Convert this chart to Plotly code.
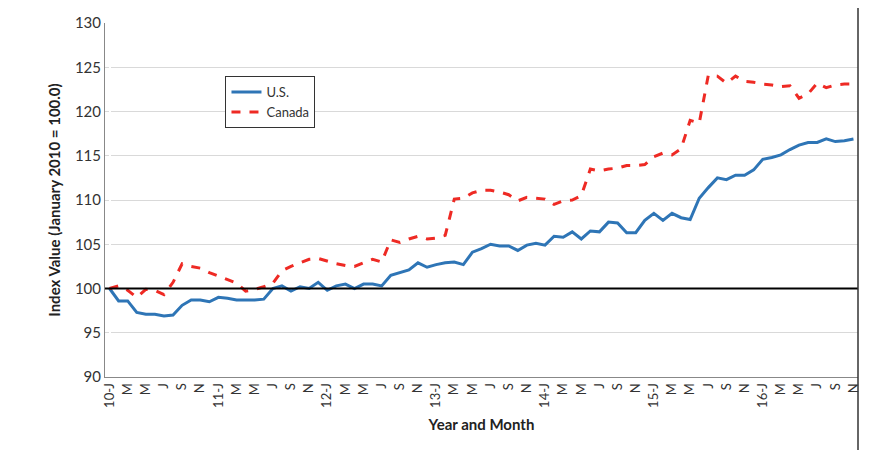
import plotly.graph_objects as go

us = [100,98.6,98.6,97.3,97.1,97.1,96.9,97.0,98.1,98.7,98.7,98.5,
      99.0,98.9,98.7,98.7,98.7,98.8,100.0,100.3,99.7,100.2,100.0,100.7,
      99.8,100.3,100.5,100.0,100.5,100.5,100.3,101.5,101.8,102.1,102.9,102.4,
      102.7,102.9,103.0,102.7,104.1,104.5,105.0,104.8,104.8,104.3,104.9,105.1,
      104.9,105.9,105.8,106.4,105.6,106.5,106.4,107.5,107.4,106.3,106.3,107.7,
      108.5,107.7,108.5,108.0,107.8,110.2,111.4,112.5,112.3,112.8,112.8,113.4,
      114.6,114.8,115.1,115.7,116.2,116.5,116.5,116.9,116.6,116.7,116.9]
canada = [100,100.3,99.8,99.0,99.9,99.8,99.3,100.7,102.8,102.5,102.3,101.8,
      101.4,101.0,100.6,99.7,99.9,100.2,100.6,102.0,102.5,102.9,103.3,103.4,
      103.1,102.8,102.6,102.5,102.9,103.3,103.0,105.5,105.2,105.6,105.9,105.6,
      105.7,106.0,110.1,110.2,110.8,111.1,111.1,110.9,110.6,109.9,110.3,110.2,
      110.1,109.5,109.9,110.0,110.5,113.5,113.3,113.5,113.6,113.9,113.9,114.0,
      114.9,115.3,115.1,115.8,119.0,118.7,124.1,124.0,123.2,124.0,123.4,123.3,
      123.1,123.0,122.8,122.9,121.5,122.0,123.2,122.7,123.0,123.1,123.1]
months = "JFMAMJJASOND"
x = list(range(len(us)))
tickvals = x[::2]
ticktext = [(f"{10 + i//12}-J" if i % 12 == 0 else months[i % 12]) for i in tickvals]

F = "Lato"
fig = go.Figure()
fig.add_trace(go.Scatter(x=x, y=us, name="U.S.", mode="lines",
                         line=dict(color="#2e75b6", width=3)))
fig.add_trace(go.Scatter(x=x, y=canada, name="Canada", mode="lines",
                         line=dict(color="#ee2a24", width=3, dash="dash")))
fig.add_shape(type="line", xref="paper", x0=0, x1=1, yref="y", y0=100, y1=100,
              line=dict(color="black", width=2))
fig.add_shape(type="line", xref="paper", yref="paper", x0=1, x1=1, y0=-0.25, y1=1.05,
              line=dict(color="#333", width=1.5))
fig.update_layout(
    width=870, height=450, plot_bgcolor="white", paper_bgcolor="white",
    margin=dict(l=97, r=20, t=15, b=81, autoexpand=False),
    font=dict(family=F, size=13, color="#333"),
    showlegend=True,
    legend=dict(x=0.16, y=0.85, xanchor="left", yanchor="top", bordercolor="#333",
                borderwidth=1, font=dict(size=13), tracegroupgap=4, bgcolor="white"),
    xaxis=dict(tickmode="array", tickvals=tickvals, ticktext=ticktext, tickangle=-90,
               range=[-0.5, len(us) - 0.5], showgrid=False, showline=True, automargin=False,
               linecolor="#888", ticks="", tickfont=dict(size=13),
               title=dict(text="<b>Year and Month</b>", font=dict(size=15, color="#222"), standoff=12)),
    yaxis=dict(range=[90, 130], dtick=5, showgrid=True, gridcolor="#d9d9d9", automargin=False,
               showline=True, linecolor="#888", tickfont=dict(size=15),
               title=dict(text="<b>Index Value (January 2010 = 100.0)</b>", font=dict(size=15, color="#222"), standoff=10)),
)
fig.write_html("out.html")
